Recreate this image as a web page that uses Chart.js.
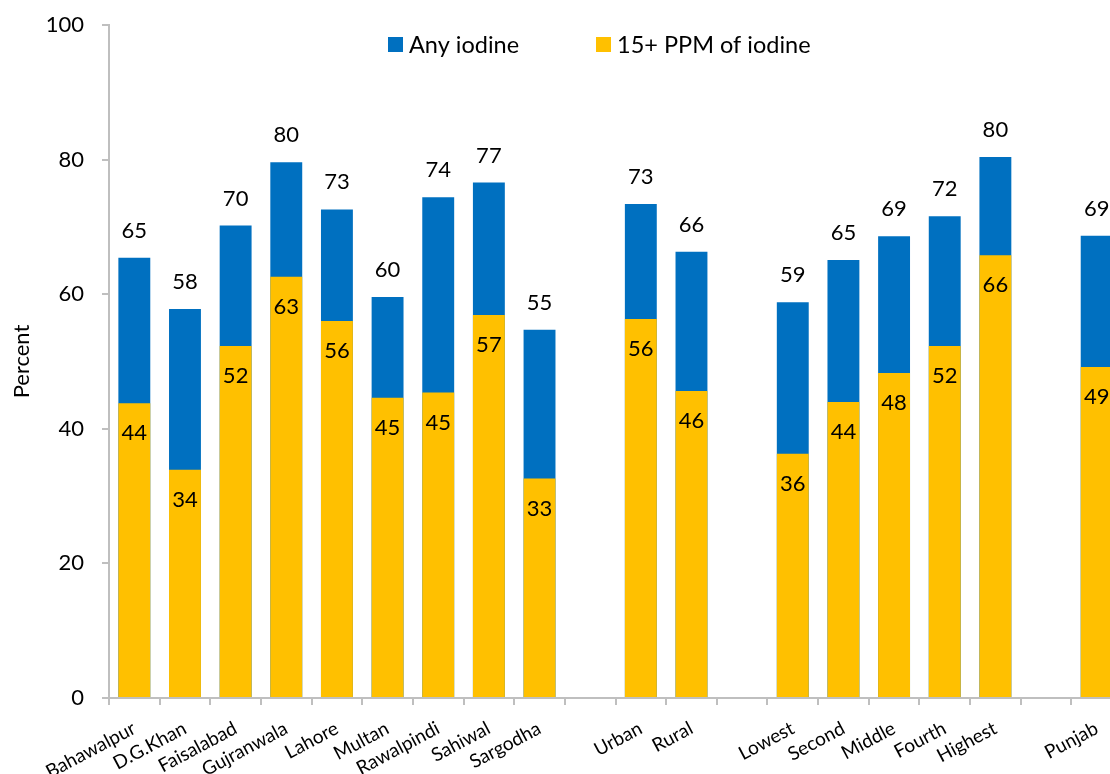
<!DOCTYPE html>
<html>
<head>
<meta charset="utf-8">
<title>Iodized salt by region</title>
<script src="https://cdn.jsdelivr.net/npm/chart.js@4.4.1/dist/chart.umd.min.js"></script>
<style>
  html, body { margin: 0; padding: 0; background: #fff; overflow: hidden; width: 1110px; height: 774px; }
  canvas { display: block; }
</style>
</head>
<body>
<canvas id="iodineChart" width="1122" height="774"></canvas>
<script>
// divisions, area and wealth quintiles; blank entries leave a gap between groups
var categories = ['Bahawalpur', 'D.G.Khan', 'Faisalabad', 'Gujranwala', 'Lahore', 'Multan', 'Rawalpindi', 'Sahiwal', 'Sargodha',
    '', 'Urban', 'Rural',
    '', 'Lowest', 'Second', 'Middle', 'Fourth', 'Highest',
    '', 'Punjab'];

// percent of households with any iodine in salt
var anyIodine = [65.4, 57.8, 70.2, 79.6, 72.6, 59.6, 74.4, 76.6, 54.7,
    null, 73.4, 66.3,
    null, 58.8, 65.1, 68.6, 71.6, 80.4,
    null, 68.7];

// percent of households with 15+ PPM of iodine
var ppm15 = [43.8, 33.9, 52.3, 62.6, 56.0, 44.6, 45.4, 56.9, 32.6,
    null, 56.3, 45.6,
    null, 36.3, 44.0, 48.3, 52.3, 65.8,
    null, 49.2];

var yTicks = [0, 20, 40, 60, 80, 100];

var FONT = 'Lato, "Open Sans", sans-serif';
var BLUE = '#0070C0';
var YELLOW = '#FFC000';
var AXIS = '#BFBFBF';

// numbers above the blue bars and inside the top of the yellow bars
var valueLabels = {
    id: 'valueLabels',
    afterDatasetsDraw: function (chart) {
        var ctx = chart.ctx;
        ctx.save();
        ctx.font = '22px ' + FONT;
        ctx.fillStyle = '#000';
        ctx.textAlign = 'center';
        ctx.textBaseline = 'middle';
        chart.data.datasets.forEach(function (ds, i) {
            chart.getDatasetMeta(i).data.forEach(function (bar, j) {
                var v = ds.data[j];
                if (v === null) return;
                var y = i === 0 ? bar.y - 27 : bar.y + 30;
                ctx.fillText(Math.round(v), bar.x, y);
            });
        });
        ctx.restore();
    }
};

// legend sits inside the plot, near the top
var insideLegend = {
    id: 'insideLegend',
    afterDraw: function (chart) {
        var ctx = chart.ctx;
        var spots = [388, 596];
        ctx.save();
        ctx.font = '23.5px ' + FONT;
        ctx.textBaseline = 'middle';
        ctx.textAlign = 'left';
        chart.data.datasets.forEach(function (ds, i) {
            var x = spots[i];
            ctx.fillStyle = ds.backgroundColor;
            ctx.fillRect(x, 37, 15, 15);
            ctx.fillStyle = '#000';
            ctx.fillText(ds.label, x + 21, 45);
        });
        ctx.restore();
    }
};

var graphTarget = document.getElementById('iodineChart');

var chartdata = {
    labels: categories,
    datasets: [
        {
            label: 'Any iodine',
            backgroundColor: BLUE,
            data: anyIodine,
            order: 2
        },
        {
            label: '15+ PPM of iodine',
            backgroundColor: YELLOW,
            data: ppm15,
            order: 1
        }
    ]
};

var iodineGraph = new Chart(graphTarget, {
    type: 'bar',
    data: chartdata,
    plugins: [valueLabels, insideLegend],
    options: {
        responsive: false,
        animation: false,
        devicePixelRatio: 1,
        categoryPercentage: 1,
        barPercentage: 0.63,
        layout: {
            padding: { top: 25, right: 0, left: 0, bottom: 0 }
        },
        plugins: {
            legend: { display: false },
            tooltip: { enabled: false }
        },
        scales: {
            x: {
                stacked: true,
                grid: {
                    offset: true,
                    drawOnChartArea: false,
                    tickLength: 7,
                    color: AXIS,
                    lineWidth: 2
                },
                border: { color: AXIS, width: 2 },
                ticks: {
                    autoSkip: false,
                    minRotation: 28,
                    maxRotation: 28,
                    padding: 12,
                    color: '#000',
                    font: { family: FONT, size: 19 }
                },
                afterFit: function (scale) {
                    scale.height = 76;
                    scale.paddingLeft = 0;
                    scale.paddingRight = 0;
                }
            },
            y: {
                stacked: false,
                min: 0,
                max: 100,
                afterBuildTicks: function (scale) {
                    scale.ticks = yTicks.map(function (v) { return { value: v }; });
                },
                grid: {
                    drawOnChartArea: false,
                    tickLength: 7,
                    color: AXIS,
                    lineWidth: 2
                },
                border: { color: AXIS, width: 2 },
                ticks: {
                    padding: 18,
                    color: '#000',
                    font: { family: FONT, size: 22 }
                },
                title: {
                    display: true,
                    text: 'Percent',
                    color: '#000',
                    padding: { top: 9, bottom: 0 },
                    font: { family: FONT, size: 22 }
                },
                afterFit: function (scale) {
                    scale.width = 109;
                    scale.paddingTop = 0;
                    scale.paddingBottom = 0;
                }
            }
        }
    }
});
</script>
</body>
</html>
